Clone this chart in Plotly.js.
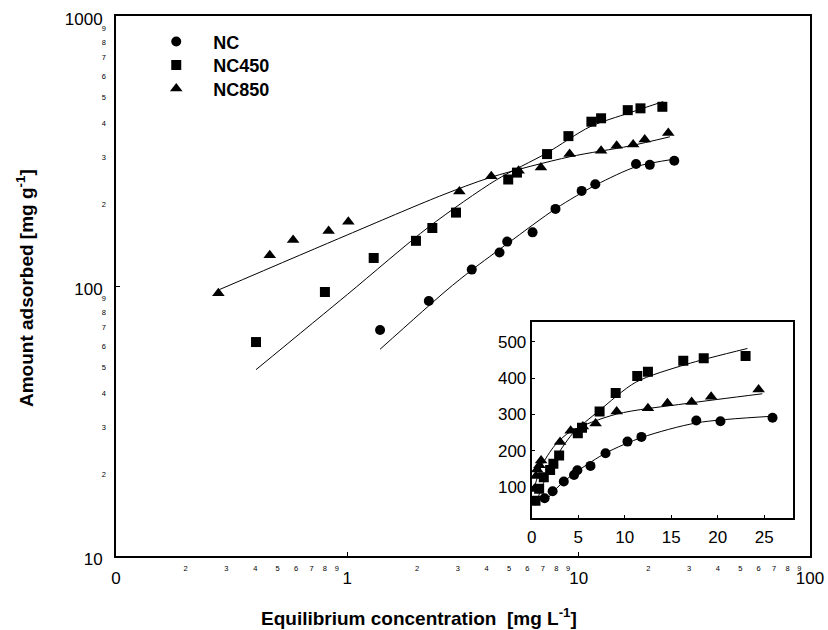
<!DOCTYPE html>
<html>
<head>
<meta charset="utf-8">
<script src="https://cdn.plot.ly/plotly-3.0.1.min.js"></script>
<style>html,body{margin:0;padding:0;background:#fff;}#chart{width:828px;height:630px;}</style>
</head>
<body>
<div id="chart"></div>
<script>
// ---- data ----
const seriesNames = ['NC', 'NC450', 'NC850'];

const ncX = [1.385, 2.25, 3.45, 4.55, 4.91, 6.32, 7.94, 10.3, 11.8, 17.7, 20.3, 25.9];
const ncY = [68.7, 88, 115, 133, 146, 158, 193, 225, 238, 283, 281, 291];

const nc450X = [0.403, 0.80, 1.30, 1.98, 2.33, 2.95, 4.96, 5.41, 7.30, 9.03, 11.35, 12.5, 16.3, 18.5, 23.0];
const nc450Y = [62, 95, 127, 147, 164, 187, 248, 263, 308, 359, 406, 418, 448, 455, 461];

const nc850X = [0.277, 0.462, 0.583, 0.83, 1.01, 3.05, 4.19, 5.5, 6.87, 9.14, 12.5, 14.6, 17.2, 19.3, 24.4];
const nc850Y = [94, 130, 148, 160, 173, 224, 255, 267, 275, 308, 317, 331, 334, 349, 369];

// fitted isotherm curves
const ncFitX = [1.385, 2.67, 3.45, 5.0, 8.0, 11.9, 17.8, 25.9];
const ncFitY = [58.3, 96, 114.6, 145, 194, 237, 277, 295];

const nc450FitX = [0.403, 1.0, 2.26, 4.40, 7.24, 11.2, 16.6, 23.2];
const nc450FitY = [49, 93, 166, 247, 310, 389, 438, 482];

const nc850FitX = [0.28, 1.0, 2.5, 4.19, 9.14, 16.6, 24.8];
const nc850FitY = [97, 154.6, 215, 253, 301, 330, 357];

// axis tick labels
const mainXTicks = [0.1, 1, 10, 100];
const mainXText = ['0', '1', '10', '100'];
const mainYTicks = [10, 100, 1000];
const mainYText = ['10', '100', '1000'];
const minorDigits = ['2', '3', '4', '5', '6', '7', '8', '9'];
const minorXTicks = [0.2,0.3,0.4,0.5,0.6,0.7,0.8,0.9, 2,3,4,5,6,7,8,9, 20,30,40,50,60,70,80,90];
const minorYTicks = [20,30,40,50,60,70,80,90, 200,300,400,500,600,700,800,900];
const insetXTicks = [0, 5, 10, 15, 20, 25];
const insetYTicks = [100, 200, 300, 400, 500];

// ---- build figure ----
const FONT = 'Liberation Sans, Arial, sans-serif';
const symbols = ['circle', 'square', 'triangle-up'];
const sizes = [10, 10, 11];
const legendIds = ['legend', 'legend2', 'legend3'];
const pts = [[ncX, ncY], [nc450X, nc450Y], [nc850X, nc850Y]];
const fits = [[ncFitX, ncFitY], [nc450FitX, nc450FitY], [nc850FitX, nc850FitY]];

const traces = [];
pts.forEach((p, i) => {
  traces.push({x: p[0], y: p[1], mode: 'markers', type: 'scatter', name: seriesNames[i], legend: legendIds[i],
    marker: {symbol: symbols[i], size: sizes[i], color: '#000'}, xaxis: 'x', yaxis: 'y'});
});
fits.forEach((f, i) => {
  traces.push({x: f[0], y: f[1], mode: 'lines', type: 'scatter', showlegend: false,
    line: {color: '#000', width: 1, shape: 'spline', smoothing: 0.8}, xaxis: 'x', yaxis: 'y', hoverinfo: 'skip'});
});
pts.forEach((p, i) => {
  traces.push({x: p[0], y: p[1], mode: 'markers', type: 'scatter', showlegend: false,
    marker: {symbol: symbols[i], size: sizes[i], color: '#000'}, xaxis: 'x3', yaxis: 'y3'});
});
fits.forEach((f, i) => {
  traces.push({x: f[0], y: f[1], mode: 'lines', type: 'scatter', showlegend: false,
    line: {color: '#000', width: 1, shape: 'spline', smoothing: 0.8}, xaxis: 'x3', yaxis: 'y3', hoverinfo: 'skip'});
});
// invisible trace to carry the minor-label axes
traces.push({x: [1], y: [100], mode: 'markers', marker: {opacity: 0}, showlegend: false,
  hoverinfo: 'skip', xaxis: 'x2', yaxis: 'y2'});

function legendAt(centerPx) {
  return {x: 0.0335, y: (556 - (centerPx - 19)) / 540, xanchor: 'left', yanchor: 'top',
    bgcolor: 'rgba(0,0,0,0)', itemwidth: 64,
    font: {family: FONT, size: 18, color: '#000', weight: 'bold'}};
}

const layout = {
  width: 828, height: 630,
  margin: {l: 116, r: 18, t: 16, b: 74},
  paper_bgcolor: '#fff', plot_bgcolor: 'rgba(0,0,0,0)',
  font: {family: FONT, color: '#000', size: 17},
  showlegend: true,
  legend: legendAt(42.3),
  legend2: legendAt(65.7),
  legend3: legendAt(89.3),
  xaxis: {type: 'log', range: [-1, 2], domain: [0, 1], tickvals: mainXTicks, ticktext: mainXText,
    ticks: 'inside', ticklen: 4, tickwidth: 1, tickcolor: '#000', showline: true, linewidth: 2, linecolor: '#000',
    mirror: true, showgrid: false, zeroline: false, tickfont: {size: 17, color: '#000'}, ticklabelstandoff: 6},
  xaxis2: {type: 'log', range: [-1, 2], overlaying: 'x', anchor: 'y2', side: 'bottom', tickvals: minorXTicks,
    ticktext: minorXTicks.map((v, i) => minorDigits[i % 8]), ticks: '', showline: false, showgrid: false,
    zeroline: false, tickfont: {size: 7.5, color: '#000'}, ticklabelstandoff: 6},
  yaxis: {type: 'log', range: [1, 3], domain: [0, 1], tickvals: mainYTicks, ticktext: mainYText,
    ticks: 'inside', ticklen: 4, tickwidth: 1, tickcolor: '#000', showline: true, linewidth: 2, linecolor: '#000',
    mirror: true, showgrid: false, zeroline: false, tickfont: {size: 17, color: '#000'}, ticklabelstandoff: 8,
    ticklabelshift: 3},
  yaxis2: {type: 'log', range: [1, 3], overlaying: 'y', anchor: 'x2', side: 'left', tickvals: minorYTicks,
    ticktext: minorYTicks.map((v, i) => minorDigits[i % 8]), ticks: '', showline: false, showgrid: false,
    zeroline: false, tickfont: {size: 7.5, color: '#000'}, ticklabelstandoff: 9},
  xaxis3: {domain: [0.599, 0.9755], anchor: 'y3', range: [0, 28.1], tickvals: insetXTicks,
    ticks: 'inside', ticklen: 3, tickcolor: '#000', showline: true, linewidth: 2, linecolor: '#000', mirror: true,
    showgrid: false, zeroline: false, tickfont: {size: 17, color: '#000'}, ticklabelstandoff: 3},
  yaxis3: {domain: [0.0709, 0.4333], anchor: 'x3', range: [15, 555], tickvals: insetYTicks,
    ticks: 'inside', ticklen: 3, tickcolor: '#000', showline: true, linewidth: 2, linecolor: '#000', mirror: true,
    showgrid: false, zeroline: false, tickfont: {size: 17, color: '#000'}},
  shapes: [{type: 'rect', xref: 'x3 domain', yref: 'y3 domain', x0: 0, x1: 1, y0: 0, y1: 1,
    fillcolor: '#fff', line: {width: 0}, layer: 'below'}],
  annotations: [
    {text: '<b>Equilibrium concentration  [mg L<sup>-1</sup>]</b>', xref: 'paper', yref: 'paper',
      x: (419 - 116) / 694, y: (556 - 617) / 540, xanchor: 'center', yanchor: 'middle', showarrow: false,
      font: {family: FONT, size: 19, color: '#000'}},
    {text: '<b>Amount adsorbed [mg g<sup>-1</sup>]</b>', xref: 'paper', yref: 'paper', textangle: -90,
      x: (25 - 116) / 694, y: (556 - 288) / 540, xanchor: 'center', yanchor: 'middle', showarrow: false,
      font: {family: FONT, size: 19, color: '#000'}}
  ]
};

Plotly.newPlot('chart', traces, layout, {displayModeBar: false, staticPlot: true});
</script>
</body>
</html>
